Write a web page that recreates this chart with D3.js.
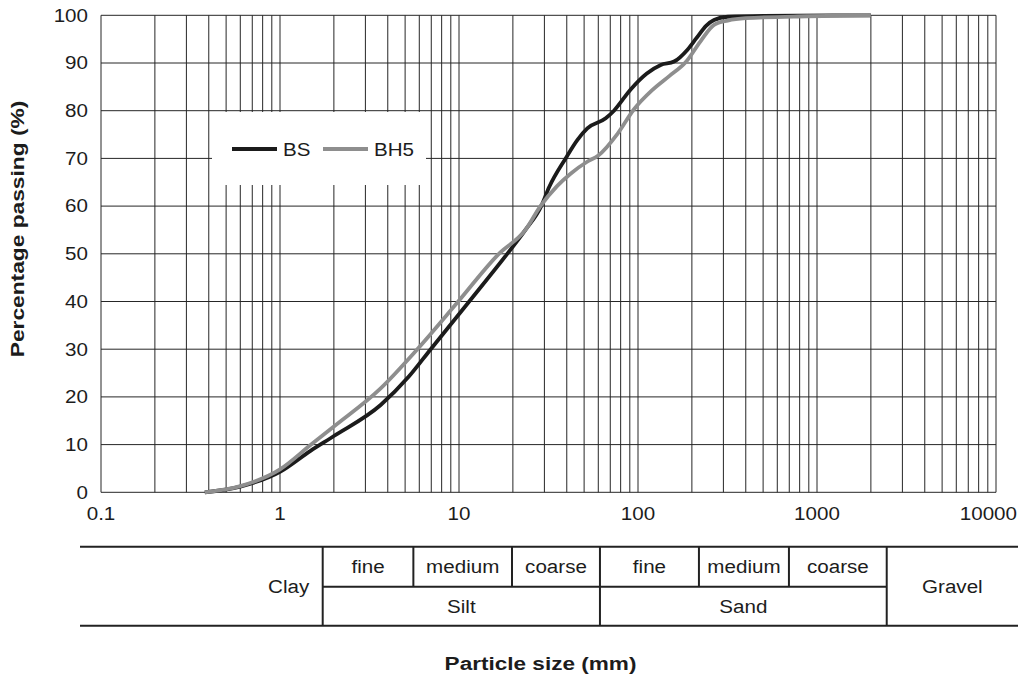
<!DOCTYPE html>
<html>
<head>
<meta charset="utf-8">
<script src="https://cdn.jsdelivr.net/npm/d3@7"></script>
<style>
  body { margin: 0; background: #fff; }
  svg { display: block; }
  text { font-family: "Liberation Sans", Arial, Helvetica, sans-serif; fill: #1c1c1c; }
</style>
</head>
<body>
<svg id="chart" width="1025" height="682"></svg>
<script>
// Grain-size distribution: particle size (log scale) vs cumulative % passing
const bsSize    = [0.38, 0.6, 1.0, 1.48, 2.0, 3.65, 5.23, 6.95, 11.4, 18.6, 23.5, 28.8, 31.9, 39.4, 45.9, 52.1, 66, 73.4, 90.7, 112, 134, 159, 189, 212, 240, 266, 317, 500, 2000];
const bsPassing = [0, 1.2, 4.3, 8.7, 11.8, 18.3, 24.2, 30, 40, 50, 55, 60, 64, 70, 73.9, 76.3, 78.4, 80, 84.4, 87.8, 89.6, 90.3, 92.8, 95.2, 97.8, 99, 99.7, 99.9, 100];

const bh5Size    = [0.38, 0.6, 1.0, 1.48, 2.0, 3.65, 5.85, 9.9, 16.7, 23.5, 28.5, 35.3, 42, 52, 60, 77, 95, 120, 150, 185, 223, 266, 317, 400, 880, 2000];
const bh5Passing = [0, 1.3, 4.8, 9.9, 13.8, 21.8, 30, 40, 50, 55, 60, 64.2, 66.8, 69.3, 70.6, 75.2, 80.3, 84.3, 87.3, 90.2, 94.5, 98, 98.9, 99.4, 99.8, 100];

const seriesNames  = ["BS", "BH5"];
const seriesColors = ["#1b1b1b", "#8e8e8e"];

const xTickValues = [0.1, 1, 10, 100, 1000, 10000];
const xTickLabels = ["0.1", "1", "10", "100", "1000", "10000"];
const yTickValues = [0, 10, 20, 30, 40, 50, 60, 70, 80, 90, 100];

// Soil classification band below the chart (limits in the same size units)
const fractionLimits = [1.732, 5.56, 19.78, 61.3, 219, 697, 2452];
const fractionNames  = ["fine", "medium", "coarse", "fine", "medium", "coarse"];
const clayStart = 0.722;
const groupNames = ["Silt", "Sand"];
const clayLabel = "Clay";
const gravelLabel = "Gravel";

const xTitle = "Particle size (mm)";
const yTitle = "Percentage passing (%)";

const svg = d3.select("#chart");
const x = d3.scaleLog().domain([0.1, 10000]).range([101, 996]);
const y = d3.scaleLinear().domain([0, 100]).range([492.3, 15.3]);

const TXT = 17.6, WIDEN = 1.17;

function label(parent, str, px, py, anchor, size, bold, widen) {
  parent.append("g")
    .attr("transform", `translate(${px},${py}) scale(${widen || WIDEN},1)`)
    .append("text")
    .attr("text-anchor", anchor || "middle")
    .style("font-size", (size || TXT) + "px")
    .style("font-weight", bold ? "bold" : "normal")
    .text(str);
}

// grid
const grid = svg.append("g").attr("stroke", "#262626").attr("stroke-width", 1).attr("fill", "none");
const vlines = [];
[0.1, 1, 10, 100, 1000].forEach(d => { for (let m = 1; m <= 9; m++) vlines.push(d * m); });
vlines.push(10000);
grid.selectAll("line.v").data(vlines).join("line")
  .attr("x1", d => x(d)).attr("x2", d => x(d))
  .attr("y1", y(0)).attr("y2", y(100));
grid.selectAll("line.h").data(yTickValues).join("line")
  .attr("x1", x(0.1)).attr("x2", x(10000))
  .attr("y1", d => y(d)).attr("y2", d => y(d));

// legend panel
const leg = svg.append("g");
leg.append("rect").attr("x", 212).attr("y", 112).attr("width", 214).attr("height", 73).attr("fill", "#fff");
seriesNames.forEach((n, i) => {
  const lx = 232 + i * 91;
  leg.append("line").attr("x1", lx).attr("x2", lx + 45).attr("y1", 149).attr("y2", 149)
    .attr("stroke", seriesColors[i]).attr("stroke-width", 4);
  label(leg, n, lx + 51, 155.5, "start");
});

// curves
const line = d3.line().x(d => x(d[0])).y(d => y(d[1])).curve(d3.curveMonotoneX);
const series = [d3.zip(bsSize, bsPassing), d3.zip(bh5Size, bh5Passing)];
svg.append("g").selectAll("path").data(series).join("path")
  .attr("d", line)
  .attr("fill", "none")
  .attr("stroke", (d, i) => seriesColors[i])
  .attr("stroke-width", 3.8)
  .attr("stroke-linecap", "butt");

// tick labels
const yl = svg.append("g");
yTickValues.forEach(v => label(yl, String(v), 88, y(v) + 6.3, "end"));
const xl = svg.append("g");
xTickValues.forEach((v, i) => {
  const s = xTickLabels[i];
  let cx = x(v);
  const halfW = s.length * 0.556 * TXT * WIDEN / 2;
  if (cx + halfW > 1017) cx = 1017 - halfW;
  label(xl, s, cx, 520, "middle");
});

// axis titles
svg.append("g")
  .attr("transform", "translate(24,229) rotate(-90) scale(1.23,1)")
  .append("text").attr("text-anchor", "middle")
  .style("font-size", "18.5px").style("font-weight", "bold").text(yTitle);
label(svg, xTitle, 540.5, 669.5, "middle", 18.5, true, 1.22);

// classification table
const tb = svg.append("g").attr("stroke", "#222").attr("stroke-width", 2).attr("fill", "none");
const tTop = 546.7, tMid = 586.7, tBot = 625.7, tLeft = 80, tRight = 1018;
tb.append("line").attr("x1", tLeft).attr("x2", tRight).attr("y1", tTop).attr("y2", tTop);
tb.append("line").attr("x1", tLeft).attr("x2", tRight).attr("y1", tBot).attr("y2", tBot);
tb.append("line").attr("x1", x(fractionLimits[0])).attr("x2", x(fractionLimits[fractionLimits.length - 1]))
  .attr("y1", tMid).attr("y2", tMid);
fractionLimits.forEach((v, i) => {
  const major = i === 0 || i === 3 || i === fractionLimits.length - 1;
  tb.append("line").attr("x1", x(v)).attr("x2", x(v))
    .attr("y1", tTop).attr("y2", major ? tBot : tMid);
});

const tt = svg.append("g");
fractionNames.forEach((n, i) => {
  const cx = (x(fractionLimits[i]) + x(fractionLimits[i + 1])) / 2;
  label(tt, n, cx, (tTop + tMid) / 2 + 6.3, "middle");
});
groupNames.forEach((n, i) => {
  const a = x(fractionLimits[i * 3]), b = x(fractionLimits[i * 3 + 3]);
  label(tt, n, (a + b) / 2, (tMid + tBot) / 2 + 6.3, "middle");
});
label(tt, clayLabel, (x(clayStart) + x(fractionLimits[0])) / 2, (tTop + tBot) / 2 + 6.3, "middle");
label(tt, gravelLabel, (x(fractionLimits[fractionLimits.length - 1]) + tRight) / 2, (tTop + tBot) / 2 + 6.3, "middle");
</script>
</body>
</html>
